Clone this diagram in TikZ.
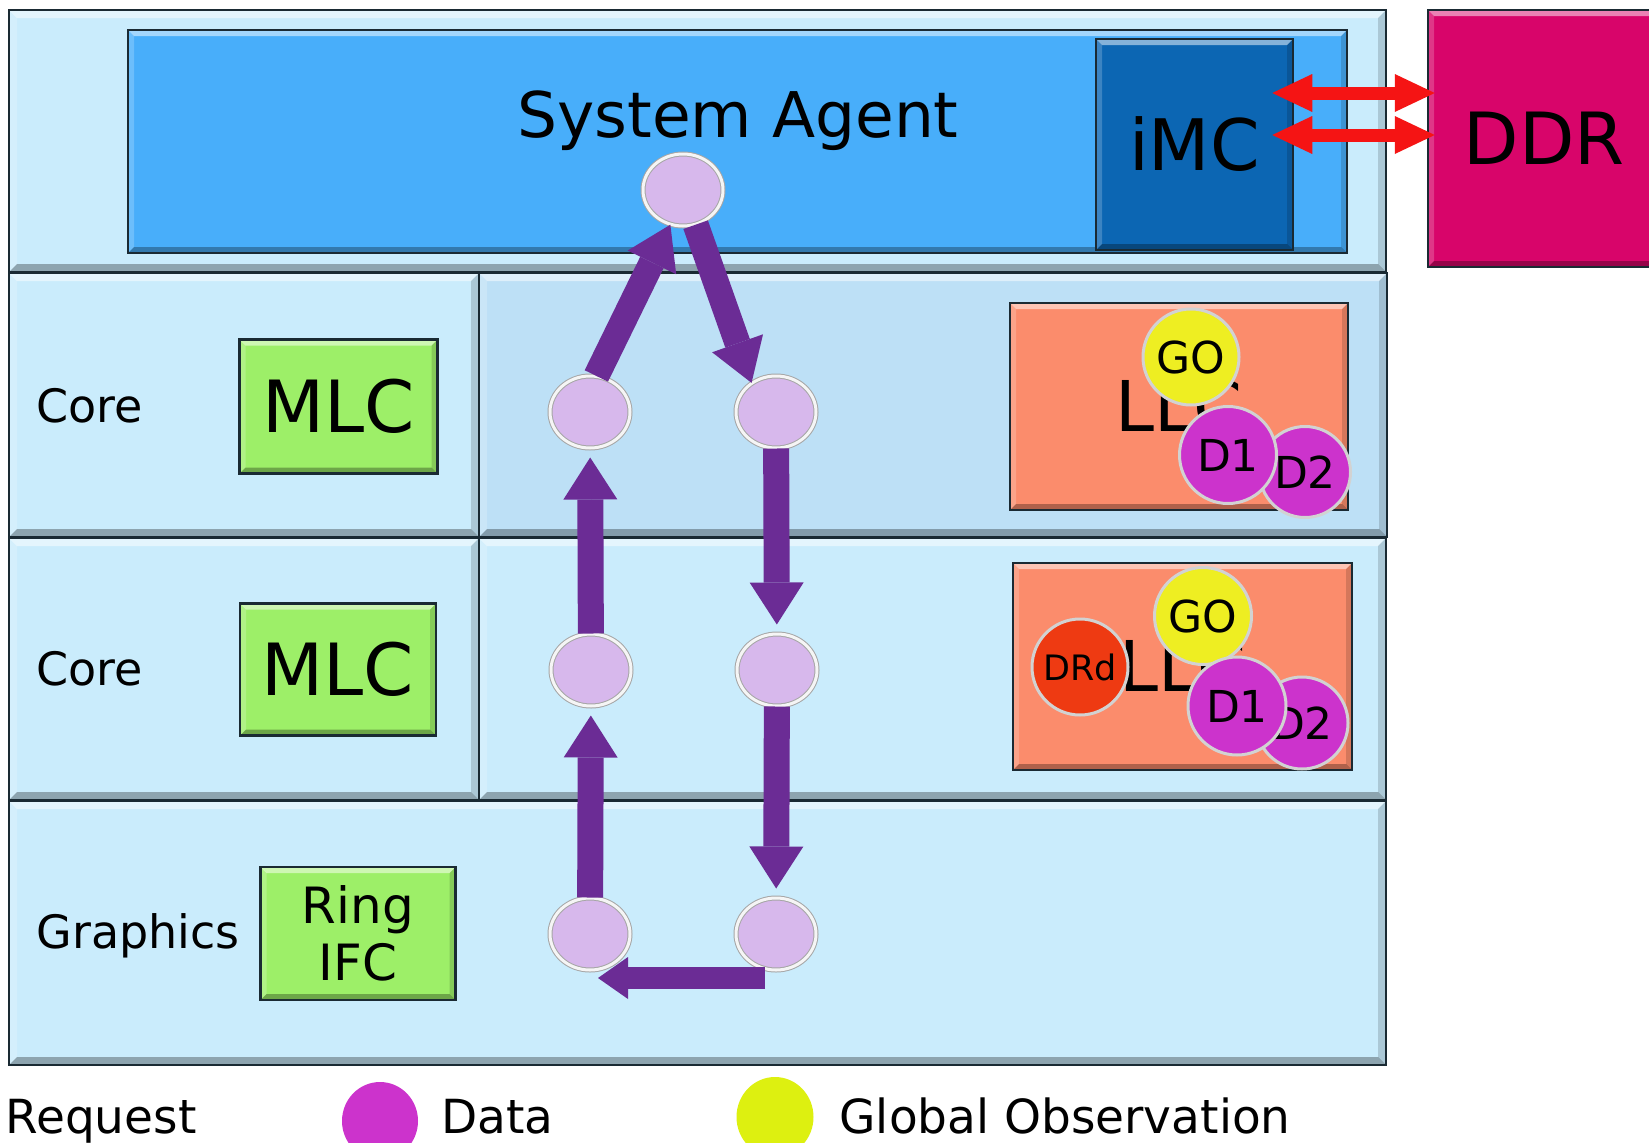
\documentclass[tikz,border=0pt]{standalone}
\usepackage{fontspec}
\setmainfont{DejaVu Sans}
\usetikzlibrary{arrows.meta,shapes.geometric}

\definecolor{cellblue}{HTML}{CAECFC}
\definecolor{llcrow}{HTML}{BDE0F6}
\definecolor{sablue}{HTML}{48AEFA}
\definecolor{imcblue}{HTML}{0C66B3}
\definecolor{ddrpink}{HTML}{D8056A}
\definecolor{mlcgreen}{HTML}{9DEF68}
\definecolor{llcorange}{HTML}{FB8C6C}
\definecolor{stoplav}{HTML}{D7B8EC}
\definecolor{ringpurple}{HTML}{6B2C95}
\definecolor{memred}{HTML}{F51414}
\definecolor{goyellow}{HTML}{EEEE22}
\definecolor{datamag}{HTML}{CC33CC}
\definecolor{drdred}{HTML}{EE3A12}
\definecolor{legyellow}{HTML}{DDF010}
\definecolor{edge}{HTML}{1A2A33}

\newcommand{\fsz}[1]{\fontsize{#1pt}{#1pt}\selectfont}

\tikzset{
  bevel/.style={path picture={
    \coordinate (bvnw) at (path picture bounding box.north west);
    \coordinate (bvne) at (path picture bounding box.north east);
    \coordinate (bvsw) at (path picture bounding box.south west);
    \coordinate (bvse) at (path picture bounding box.south east);
    \fill[white,opacity=.5] (bvnw) -- (bvne) -- ([xshift=-#1,yshift=-#1]bvne) -- ([xshift=#1,yshift=-#1]bvnw) -- cycle;
    \fill[white,opacity=.2] (bvnw) -- ([xshift=#1,yshift=-#1]bvnw) -- ([xshift=#1,yshift=#1]bvsw) -- (bvsw) -- cycle;
    \fill[black,opacity=.3] (bvsw) -- (bvse) -- ([xshift=-#1,yshift=#1]bvse) -- ([xshift=#1,yshift=#1]bvsw) -- cycle;
    \fill[black,opacity=.15] (bvne) -- (bvse) -- ([xshift=-#1,yshift=#1]bvse) -- ([xshift=-#1,yshift=-#1]bvne) -- cycle;
  }},
  cell/.style={draw=edge, line width=2.5pt, bevel=8pt},
  block/.style={rectangle, draw=edge, line width=2.5pt, inner sep=0pt, bevel=6pt, text=black},
  label/.style={anchor=base west, text=black, font=\fsz{46}},
  stop/.style={ellipse, minimum width=80pt, minimum height=72pt, inner sep=0pt,
    fill=stoplav, draw=gray!70, line width=1pt, double=white!92!gray, double distance=3pt},
  token/.style={circle, inner sep=0pt, draw=white!65!gray, line width=3pt, text=black, font=\fsz{44}},
  ringarrow/.style={draw=ringpurple, line width=26pt,
    -{Triangle[width=54pt,length=42pt,line width=0pt]}},
  backarrow/.style={draw=ringpurple, line width=22pt,
    -{Triangle[width=42pt,length=30pt,line width=0pt]}},
  memarrow/.style={draw=memred, line width=13pt,
    {Triangle[width=38pt,length=40pt,line width=0pt]}-{Triangle[width=38pt,length=40pt,line width=0pt]}},
}

\begin{document}
\begin{tikzpicture}[x=1pt,y=-1pt]
  \fill[white] (0,0) rectangle (1649,1143);
  \useasboundingbox (0,0) rectangle (1649,1143);

  % chip floor plan: one row per ring agent
  \draw[cell, fill=cellblue] (9,10)    rectangle (1386,272);
  \draw[cell, fill=cellblue] (9,273)   rectangle (479,537);
  \draw[cell, fill=llcrow]   (479,273) rectangle (1387,537);
  \draw[cell, fill=cellblue] (9,538)   rectangle (479,800);
  \draw[cell, fill=cellblue] (479,538) rectangle (1386,800);
  \draw[cell, fill=cellblue] (9,801)   rectangle (1386,1065);

  % system agent, memory controller and DRAM
  \node[block, fill=sablue, minimum width=1219pt, minimum height=223pt] (sa) at (737.5,141.5) {};
  \node[anchor=base, text=black, font=\fsz{63}] (satext) at (738,137) {System Agent};
  \node[block, fill=imcblue, minimum width=197pt, minimum height=211pt, font=\fsz{71}] (imc) at (1194.5,144.5) {iMC};
  \node[block, fill=ddrpink, minimum width=232pt, minimum height=257pt, font=\fsz{72}] (ddr) at (1544,138.5) {DDR};

  \draw[memarrow] ([xshift=-22pt,yshift=51.5pt]imc.east) -- ([xshift=8pt,yshift=45.5pt]ddr.west);
  \draw[memarrow] ([xshift=-22pt,yshift=9.5pt]imc.east) -- ([xshift=8pt,yshift=3.5pt]ddr.west);

  % agent labels and their ring interfaces
  \node[label] (core1) at (33,422) {Core};
  \node[label] (core2) at (33,685) {Core};
  \node[label] (gfx) at (33,948) {Graphics};

  \node[block, fill=mlcgreen, minimum width=198pt, minimum height=134pt, font=\fsz{72}] (mlc1) at (338.5,406.5) {MLC};
  \node[block, fill=mlcgreen, minimum width=196pt, minimum height=132pt, font=\fsz{72}] (mlc2) at (338,669.5) {MLC};
  \node[block, fill=mlcgreen, minimum width=195pt, minimum height=133pt, align=center,
        font={\fontsize{50pt}{57pt}\selectfont}] (ringifc) at (358,933.5) {Ring\\IFC};

  % last level cache slices with the messages they hold
  \node[block, fill=llcorange, minimum width=338pt, minimum height=207pt, font=\fsz{70}] (llc1) at (1179,406.5) {LLC};
  \node[block, fill=llcorange, minimum width=339pt, minimum height=207pt, font=\fsz{70}] (llc2) at (1182.5,666.5) {LLC};

  \node[token, fill=goyellow, minimum size=96pt] (go1) at (1191,357) {GO};
  \node[token, fill=datamag, minimum size=91pt] (d2a) at (1305,472) {D2};
  \node[token, fill=datamag, minimum size=97pt] (d1a) at (1228,455) {D1};

  \node[token, fill=drdred, minimum size=96pt, font=\fsz{35}] (drd) at (1080,667) {DRd};
  \node[token, fill=goyellow, minimum size=97pt] (go2) at (1203,616) {GO};
  \node[token, fill=datamag, minimum size=92pt] (d2b) at (1302,723) {D2};
  \node[token, fill=datamag, minimum size=98pt] (d1b) at (1237,706) {D1};

  % ring stops
  \node[stop] (top) at (683,190) {};
  \node[stop] (r2l) at (590,412) {};
  \node[stop] (r2r) at (776,412) {};
  \node[stop] (r3l) at (591,670) {};
  \node[stop] (r3r) at (777,670) {};
  \node[stop] (r4l) at (590,934) {};
  \node[stop] (r4r) at (776,934) {};

  % ring traffic
  \draw[ringarrow] (r2l.80) -- (top.250);
  \draw[ringarrow] (top.290) -- (r2r.130);
  \draw[ringarrow, shorten >=9pt] (r3l) -- (r2l);
  \draw[ringarrow, shorten >=9pt] (r2r) -- (r3r);
  \draw[ringarrow, shorten >=9pt] (r4l) -- (r3l);
  \draw[ringarrow, shorten >=9pt] (r3r) -- (r4r);
  \draw[backarrow] ([xshift=-11pt,yshift=-44pt]r4r.center) -- ([xshift=8pt,yshift=-44pt]r4l.center);

  % legend
  \node[anchor=base west, text=black, font=\fsz{47}] (lreq) at (2,1133) {Request};
  \node[ellipse, fill=datamag, minimum width=76pt, minimum height=78pt, inner sep=0pt] (ldata) at (380,1121) {};
  \node[anchor=base west, text=black, font=\fsz{47}] (ldatatext) at (438,1133) {Data};
  \node[ellipse, fill=legyellow, minimum width=77pt, minimum height=80pt, inner sep=0pt] (lgo) at (775,1117) {};
  \node[anchor=base west, text=black, font=\fsz{47}] (lgotext) at (836,1133) {Global Observation};
\end{tikzpicture}
\end{document}
